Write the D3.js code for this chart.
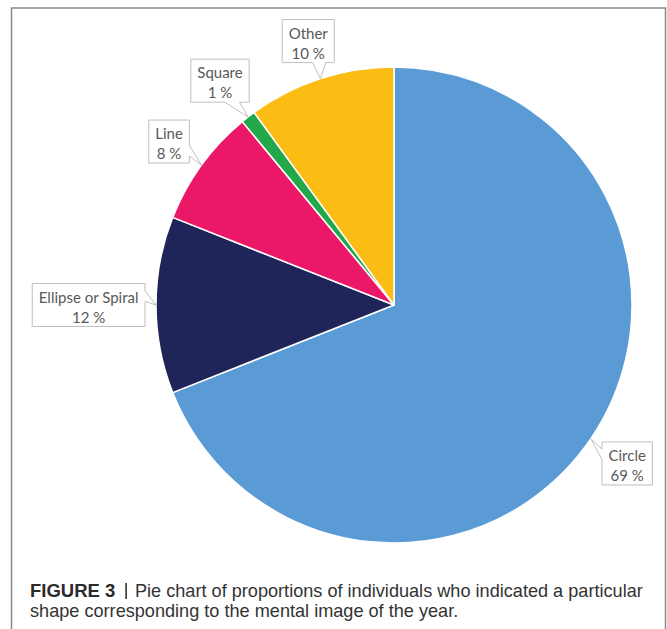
<!DOCTYPE html>
<html>
<head>
<meta charset="utf-8">
<script src="https://cdn.jsdelivr.net/npm/d3@7"></script>
<style>
  html, body { margin: 0; padding: 0; background: #fff; }
  svg { display: block; }
</style>
</head>
<body>
<svg id="chart" width="667" height="629"></svg>
<script>
// Shapes reported for the mental image of the year (percent of individuals)
const categories = ["Circle", "Ellipse or Spiral", "Line", "Square", "Other"];
const percents = [69, 12, 8, 1, 10];
const sliceColors = ["#5B9BD5", "#1F2558", "#EA1866", "#22A84B", "#FBBC14"];
const captionBold = "FIGURE 3";
const captionLines = [
  "Pie chart of proportions of individuals who indicated a particular",
  "shape corresponding to the mental image of the year."
];

const svg = d3.select("#chart");
const W = 667, H = 629;

// outer frame (open at the bottom)
svg.append("path")
  .attr("d", `M11.5,${H + 2} L11.5,8 L665.5,8 L665.5,${H + 2}`)
  .attr("fill", "none")
  .attr("stroke", "#8a8a8a")
  .attr("stroke-width", 1.5);

const cx = 394, cy = 305, R = 238;
const data = categories.map((c, i) => ({ name: c, value: percents[i], color: sliceColors[i] }));

const pie = d3.pie().sort(null).value(d => d.value).startAngle(0).endAngle(2 * Math.PI);
const arc = d3.arc().innerRadius(0).outerRadius(R);
const arcs = pie(data);

const g = svg.append("g").attr("transform", `translate(${cx},${cy})`);
g.selectAll("path.slice")
  .data(arcs)
  .join("path")
  .attr("class", "slice")
  .attr("d", arc)
  .attr("fill", d => d.data.color)
  .attr("stroke", "#fff")
  .attr("stroke-width", 1.5)
  .attr("stroke-linejoin", "round");

// rectangular callout with a wedge pointing at (dx,dy) measured from the box centre
function calloutPath(w, h, dx, dy) {
  const x1 = w * (dx > 0 ? 7 : 2) / 12, x2 = w * (dx > 0 ? 10 : 5) / 12;
  const y1 = h * (dy > 0 ? 7 : 2) / 12, y2 = h * (dy > 0 ? 10 : 5) / 12;
  const tx = w / 2 + dx, ty = h / 2 + dy;
  const dq = dx * h / w;
  if (Math.abs(dy) > Math.abs(dq)) {
    if (dy < 0) return `M0,0 L${x1},0 L${tx},${ty} L${x2},0 L${w},0 L${w},${h} L0,${h} Z`;
    return `M0,0 L${w},0 L${w},${h} L${x2},${h} L${tx},${ty} L${x1},${h} L0,${h} Z`;
  }
  if (dx < 0) return `M0,0 L${w},0 L${w},${h} L0,${h} L0,${y2} L${tx},${ty} L0,${y1} Z`;
  return `M0,0 L${w},0 L${w},${y1} L${tx},${ty} L${w},${y2} L${w},${h} L0,${h} Z`;
}

const labelFont = "Lato, 'Open Sans', sans-serif";
const labelSize = 15;
const padX = 6.5, boxH = 43, gap = 11;

const labels = svg.append("g");
arcs.forEach(a => {
  const mid = (a.startAngle + a.endAngle) / 2;
  const sx = Math.sin(mid), sy = -Math.cos(mid);
  const tipX = cx + sx * R, tipY = cy + sy * R;
  const lines = [a.data.name, `${a.data.value} %`];

  const grp = labels.append("g");
  const texts = lines.map(t => grp.append("text")
    .text(t)
    .attr("font-family", labelFont)
    .attr("font-size", labelSize)
    .attr("fill", "#595959")
    .attr("text-anchor", "middle"));
  const tw = d3.max(texts, t => t.node().getComputedTextLength());
  const w = tw + 2 * padX, h = boxH;
  const ext = Math.abs(sx) * w / 2 + Math.abs(sy) * h / 2;
  const bcx = cx + sx * (R + gap + ext), bcy = cy + sy * (R + gap + ext);
  const bx = bcx - w / 2, by = bcy - h / 2;

  grp.insert("path", "text")
    .attr("transform", `translate(${bx},${by})`)
    .attr("d", calloutPath(w, h, tipX - bcx, tipY - bcy))
    .attr("fill", "#fff")
    .attr("stroke", "#bfbfbf")
    .attr("stroke-width", 1);
  texts.forEach((t, i) => t.attr("x", bcx).attr("y", by + 19 + i * 20));
});

// caption
const capFont = "'Liberation Sans', Arial, sans-serif";
const capX = 30, bodyStart = 135, bodyEnd = 643;
svg.append("text")
  .attr("x", capX).attr("y", 597)
  .attr("font-family", capFont)
  .attr("font-weight", "bold")
  .attr("font-size", 18.5)
  .attr("fill", "#2a2a2a")
  .text(captionBold);
svg.append("rect")
  .attr("x", 125.3).attr("y", 583)
  .attr("width", 1.6).attr("height", 16)
  .attr("fill", "#333");

const body1 = svg.append("text")
  .attr("x", bodyStart).attr("y", 597)
  .attr("font-family", capFont)
  .attr("font-size", 18)
  .attr("fill", "#333")
  .text(captionLines[0]);
// size the body text so the first line ends at the right margin
const bodySize = 18 * (bodyEnd - bodyStart) / body1.node().getComputedTextLength();
body1.attr("font-size", bodySize);

svg.append("text")
  .attr("x", capX).attr("y", 617)
  .attr("font-family", capFont)
  .attr("font-size", bodySize)
  .attr("fill", "#333")
  .text(captionLines[1]);
</script>
</body>
</html>
